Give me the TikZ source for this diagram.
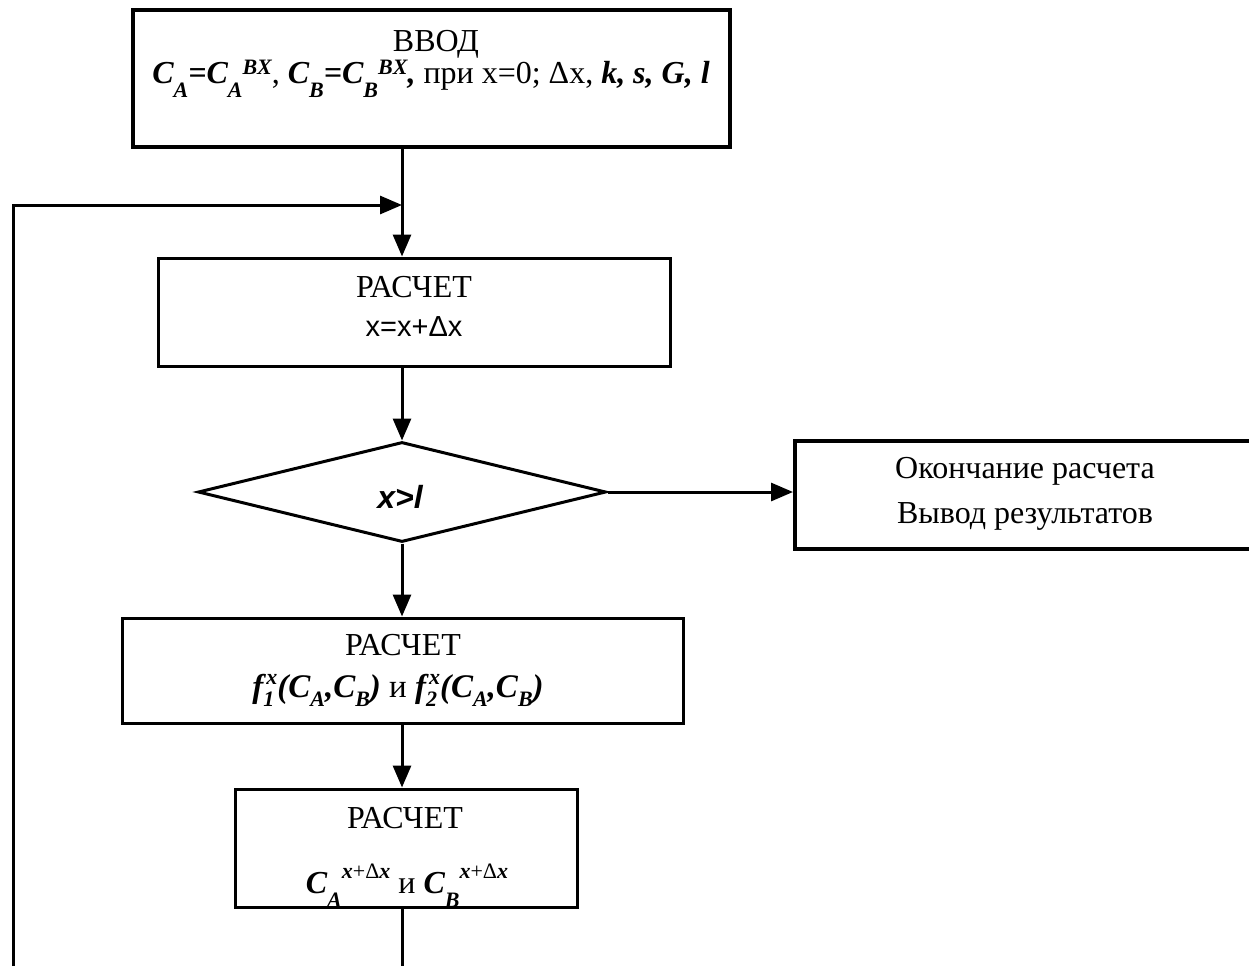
\documentclass[tikz,border=0pt]{standalone}
\usepackage{fontspec}
\setmainfont{Liberation Serif}
\newfontfamily\arial{Liberation Sans}
\usetikzlibrary{arrows.meta,shapes.geometric}
\newcommand\bi[1]{{\bfseries\itshape #1}}
% custom sub/superscripts: #1 = shift in pt, #2 = text
\newcommand\mysub[2]{\raisebox{-#1pt}{\fontsize{22}{22}\selectfont #2}}
\newcommand\mysup[2]{\raisebox{#1pt}{\fontsize{22}{22}\selectfont #2}}
\begin{document}
\begin{tikzpicture}[x=1pt,y=-1pt,line width=3pt,
  box/.style={draw,rectangle,inner sep=0pt},
  lbl/.style={anchor=base,inner sep=0pt,font=\fontsize{32}{36}\selectfont},
  arr/.style={-{Triangle[length=22pt,width=18pt]}},
  dec/.style={draw,diamond,inner sep=0pt}]
\useasboundingbox (0,0) rectangle (1249,966);
% boxes
\node[box,line width=4pt,minimum width=597pt,minimum height=137pt] (b1) at (431.5,78.5) {};
\node[box,minimum width=512pt,minimum height=108pt] (b2) at (414,312) {};
\node[dec,minimum width=408pt,minimum height=100pt] (d) at (402,492) {};
\node[box,line width=4pt,minimum width=457pt,minimum height=108pt] (rb) at (1023.5,495) {};
\node[box,minimum width=561pt,minimum height=105pt] (b4) at (402.5,670.5) {};
\node[box,minimum width=342pt,minimum height=118pt] (b5) at (406,848) {};
% texts
\node[lbl] (t1a) at (436,52) {ВВОД};
\node[lbl] (t1b) at (431,83) {\bi{C}\mysub{14}{\bi{A}}\bi{=C}\mysub{14}{\bi{A}}\mysup{9}{\bi{BX}}, \bi{C}\mysub{14}{\bi{B}}\bi{=C}\mysub{14}{\bi{B}}\mysup{9}{\bi{BX}}\bi{,} при x=0; Δx, \bi{k, s, G, l}};
\node[lbl] (t2a) at (414,297) {РАСЧЕТ};
\node[lbl] (t2b) at (414,336) {\fontsize{29}{32}\selectfont\arial x=x+Δx};
\node[lbl] (td) at (400,508) {\arial\bfseries\itshape x>l};
\node[lbl] (tra) at (1025,478) {Окончание расчета};
\node[lbl] (trb) at (1025,523) {Вывод результатов};
\node[lbl] (t4a) at (403,655) {РАСЧЕТ};
\node[lbl] (t4b) at (398,697) {\fontsize{33}{36}\selectfont\bi{f}\rlap{\mysub{9}{\bi{1}}}\kern3pt\mysup{13}{\bi{x}}\bi{(C}\mysub{9}{\bi{A}}\bi{,C}\mysub{9}{\bi{B}}\bi{)} и \bi{f}\rlap{\mysub{9}{\bi{2}}}\kern3pt\mysup{13}{\bi{x}}\bi{(C}\mysub{9}{\bi{A}}\bi{,C}\mysub{9}{\bi{B}}\bi{)}};
\node[lbl] (t5a) at (405,828) {РАСЧЕТ};
\node[lbl] (t5b) at (407,893) {\bi{C}\mysub{14}{\bi{A}}\mysup{15}{\bi{x}+Δ\bi{x}} и \bi{C}\mysub{14}{\bi{B}}\mysup{15}{\bi{x}+Δ\bi{x}}};
% connectors
\coordinate (c1) at (402,205);
\coordinate (lb) at (13,966);
\coordinate (bot) at (402,966);
\draw[arr] (b1.south -| c1) -- (b2.north -| c1);
\draw[arr] (lb) |- (c1);
\draw[arr] (b2.south -| d.north) -- (d.north);
\draw[arr] (d.east) -- (d.east -| rb.west);
\draw[arr] (d.south) -- (b4.north -| d.south);
\draw[arr] (b4.south -| d.south) -- (b5.north -| d.south);
\draw (b5.south -| d.south) -- (bot);
\end{tikzpicture}
\end{document}
